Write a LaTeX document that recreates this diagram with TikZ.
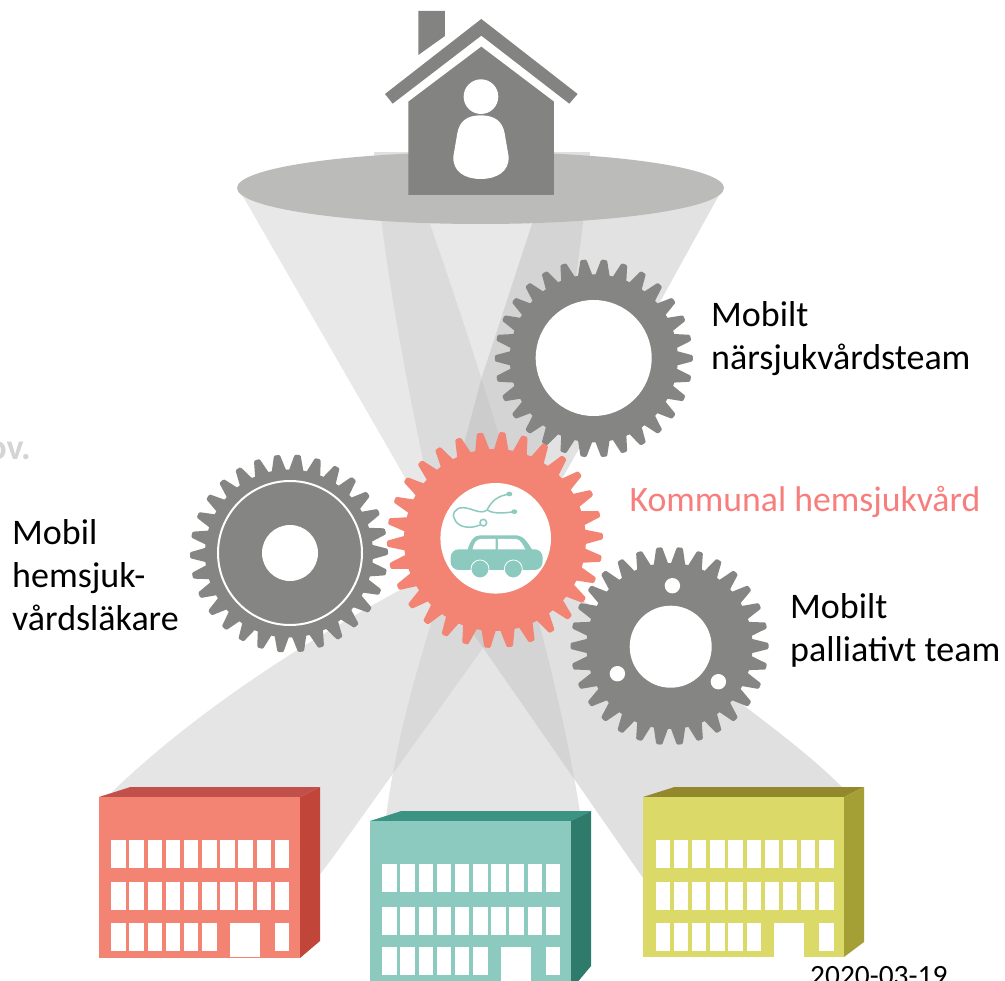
\documentclass[tikz,border=0pt]{standalone}
\usepackage{fontspec}
\setmainfont{Carlito}
\definecolor{gearg}{HTML}{858584}
\definecolor{houseg}{HTML}{838382}
\definecolor{plate}{HTML}{BBBCBA}
\definecolor{redF}{HTML}{F38372}
\definecolor{redT}{HTML}{C1504A}
\definecolor{redS}{HTML}{C14639}
\definecolor{greenF}{HTML}{8CCABF}
\definecolor{greenT}{HTML}{3B9383}
\definecolor{greenS}{HTML}{2E7B6C}
\definecolor{yelF}{HTML}{DBD968}
\definecolor{yelT}{HTML}{94882D}
\definecolor{yelS}{HTML}{A5A035}
\definecolor{kommun}{HTML}{F87E7E}
\tikzset{
  label text/.style={inner sep=0pt,anchor=north west,align=left,font=\fontsize{36}{43}\selectfont,text=black},
  win/.style={fill=white}
}
% cones towards the home
\def\PA{(237,186) -- (395,460) -- (440,540) -- (500,540) -- (498,433) .. controls (490,405) and (470,340) .. (430,224) -- (418,186) -- cycle}
\def\PB{(378,186) -- (381.7,223) .. controls (390,290) and (403,363) .. (423,460) -- (440,540) -- (510,550) -- (541,460) .. controls (562,370) and (575,290) .. (583,223) -- (586,186) -- cycle}
\def\PC{(545,186) -- (532,224) -- (482,377) -- (467,433) -- (450,500) -- (510,570) -- (580,447) -- (724,186) -- cycle}
% cones towards the hospitals
\def\PR{(150,850) -- (112,792) .. controls (190,717) and (290,650) .. (400,590) -- (500,530) -- (521,595) -- (331,860) -- (300,900) -- cycle}
\def\PG{(386,830) -- (386,817) .. controls (395,750) and (412,680) .. (445,580) -- (530,590) .. controls (555,680) and (570,750) .. (580,812) -- (582,830) -- cycle}
\def\PY{(700,900) -- (643,878) -- (450,600) -- (540,575) -- (595,608) .. controls (650,640) and (700,670) .. (743,705) .. controls (780,733) and (815,760) .. (842,787) -- (850,800) -- cycle}
% gear: x, y, tip radius, root radius, colour, phase
\newcommand{\drawgear}[6]{%
  \begin{scope}[shift={(#1,#2)}]
    \fill[#5] (0,0) circle (#4);
    \foreach \a in {0,12,...,348}{
      \fill[#5,draw=#5,line width=3pt,line join=round,rotate=\a+#6]
        (#4-3,-6.2) -- (#3-1.5,-1.8) -- (#3-1.5,1.8) -- (#4-3,6.2) -- cycle;
    }
  \end{scope}}
% building: front left x, front top y, front bottom y, front, top, side colours, side bottom y, right x
\newcommand{\drawbuilding}[8]{%
  \fill[#5] (#1,#2) -- (#1+31.5,#2-10) -- (#8,#2-10) -- (#8-20,#2) -- cycle;
  \fill[#6] (#8-20,#2) -- (#8,#2-10) -- (#8,#7) -- (#8-20,#3) -- cycle;
  \fill[#4] (#1,#2) rectangle (#8-20,#3);
}
% windows: first window x, door x, row tops 1..3, door bottom
\newcommand{\drawwindows}[6]{%
  \foreach \i in {0,...,9}{
    \fill[win] (#1+\i*18.17,#3) rectangle ++(14.4,27.5);
    \fill[win] (#1+\i*18.17,#4) rectangle ++(14.4,27.5);
  }
  \foreach \i in {0,...,5,9}{
    \fill[win] (#1+\i*18.17,#5) rectangle ++(14.4,27.5);
  }
  \fill[win] (#2,#5) rectangle (#2+30,#6);
}
\begin{document}
\begin{tikzpicture}[x=1pt,y=-1pt]
\useasboundingbox (0,0) rectangle (1005,981);
\clip (0,0) rectangle (1005,981);
\fill[white] (0,0) rectangle (1005,981);

% upper cones
\fill[black!9] \PA;
\fill[black!9] \PB;
\fill[black!11.5] \PC;
\begin{scope}\clip \PA; \fill[black!14] \PB; \end{scope}
\begin{scope}\clip \PB; \fill[black!17] \PC; \end{scope}
\begin{scope}\clip \PA; \clip \PB; \fill[black!20] \PC; \end{scope}

% lower cones
\fill[black!10] \PR;
\fill[black!10] \PG;
\fill[black!12] \PY;
\begin{scope}\clip \PR; \fill[black!15] \PG; \end{scope}
\begin{scope}\clip \PG; \fill[black!17] \PY; \end{scope}
\begin{scope}\clip \PR; \fill[black!17] \PY; \end{scope}
\begin{scope}\clip \PR; \clip \PG; \fill[black!20] \PY; \end{scope}

% plate and house
\fill[black!12] (374,152) rectangle (590,158);
\fill[plate] (480.5,188) ellipse (243.5 and 36);
\begin{scope}[shift={(230,0)},x=0.3333pt,y=-0.3333pt]
  \fill[houseg] (565,33) -- (645,33) -- (645,108) -- (565,165) -- cycle;
  \fill[houseg] (754,57) -- (1043,282) -- (1018,311) -- (754,107) -- (488,311) -- (465,282) -- cycle;
  \fill[houseg] (754,140) -- (972,305) -- (972,585) -- (535,585) -- (535,305) -- cycle;
  \fill[white] (753,290) circle (52);
  \fill[white] (752,346) .. controls (710,346) and (688,365) .. (682,400)
     -- (670,470) .. controls (668,515) and (705,537) .. (752,537)
     .. controls (800,537) and (838,515) .. (836,470)
     -- (824,400) .. controls (818,365) and (795,346) .. (752,346) -- cycle;
\end{scope}

% hospitals
\drawbuilding{99}{797}{958}{redF}{redT}{redS}{941}{320}
\drawwindows{111.3}{230}{840}{882}{923}{957}
\drawbuilding{370}{821}{990}{greenF}{greenT}{greenS}{966}{591}
\drawwindows{382.3}{500.5}{864}{907}{947}{990}
\drawbuilding{643}{797}{957}{yelF}{yelT}{yelS}{942}{864}
\drawwindows{655.7}{774}{840}{882}{923}{957}

% gears
\drawgear{593.8}{358.3}{99}{84}{gearg}{0}
\fill[white] (593.7,358) circle (58);
\drawgear{289}{553.5}{99}{84}{gearg}{1}
\draw[white,line width=2pt] (290,553) circle (72);
\fill[white] (290,553) circle (28);
\drawgear{669.5}{646}{99}{83}{gearg}{0}
\fill[white] (670.7,646.7) circle (41);
\fill[white] (672.4,585.7) circle (7.7);
\fill[white] (617.4,673.7) circle (7.7);
\fill[white] (718.4,681.7) circle (7.7);
\drawgear{494.9}{540}{108}{91}{redF}{2}
\fill[white] (495.7,538.3) circle (55.3);

% stethoscope and car
\begin{scope}[shift={(380,420)},x=0.3333pt,y=-0.3333pt]
  \draw[greenF,line width=1.5pt,line cap=round]
    (388,222) .. controls (350,228) and (335,245) .. (322,268);
  \draw[greenF,line width=1.5pt,line cap=round]
    (403,275) .. controls (370,280) and (340,282) .. (322,270)
    .. controls (300,285) and (280,265) .. (250,263)
    .. controls (225,262) and (212,285) .. (225,300)
    .. controls (235,322) and (270,328) .. (300,315);
  \fill[greenF] (388,222) ellipse (9 and 7);
  \fill[greenF] (403,275) ellipse (9 and 7);
  \draw[greenF,fill=white,line width=1.5pt] (310,308) circle (10);
  \fill[greenF] (262,392) .. controls (270,365) and (280,346) .. (300,346) -- (410,346)
     .. controls (430,346) and (445,370) .. (458,392) -- cycle;
  \fill[white] (276,393) .. controls (282,370) and (288,357) .. (303,357) -- (347,357) -- (347,393) -- cycle;
  \fill[white] (354,357) -- (408,357) .. controls (420,357) and (430,375) .. (438,393) -- (354,393) -- cycle;
  \fill[greenF,rounded corners=8pt] (212,388) rectangle (488,450);
  \draw[white,line width=0.8pt,fill=greenF] (300,447) circle (27);
  \draw[white,line width=0.8pt,fill=greenF] (400,447) circle (27);
\end{scope}

% labels
\node[label text] (team1) at (711,301) {Mobilt\\närsjukvårdsteam};
\node[label text,anchor=base west,text=kommun,font=\fontsize{35.7}{43}\selectfont] (kommunal) at (629.5,511.7) {Kommunal hemsjukvård};
\node[label text] (team2) at (790,593) {Mobilt\\palliativt team};
\node[label text] (team3) at (12,519) {Mobil\\hemsjuk-\\vårdsläkare};
\node[inner sep=0pt,anchor=base west,font=\fontsize{29.4}{32}\selectfont,text=black] (date) at (810,985) {2020-03-19};
\node[inner sep=0pt,anchor=base east,font=\bfseries\fontsize{36}{40}\selectfont,text=black!17] (cut) at (31,460) {ov.};
\end{tikzpicture}
\end{document}
